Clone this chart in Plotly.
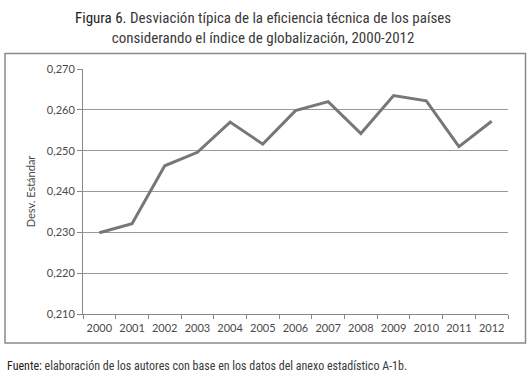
import plotly.graph_objects as go

years = ["2000", "2001", "2002", "2003", "2004", "2005", "2006",
         "2007", "2008", "2009", "2010", "2011", "2012"]
desv = [0.2299, 0.2321, 0.2463, 0.2496, 0.2570, 0.2516, 0.2598,
        0.2620, 0.2542, 0.2635, 0.2622, 0.2510, 0.2572]
y_ticks = [0.210, 0.220, 0.230, 0.240, 0.250, 0.260, 0.270]

W, H = 531, 376
L, R, T, B = 83, 508, 69, 314


def px_x(p):
    return (p - L) / (R - L)


def px_y(p):
    return (B - p) / (B - T)


fig = go.Figure()
fig.add_trace(go.Scatter(
    x=years, y=desv, mode="lines",
    line=dict(color="#777777", width=3),
    hoverinfo="x+y",
))

cond = "Liberation Sans Narrow, Arial Narrow, Roboto Condensed, Roboto, sans-serif"
tick_font = dict(family="Lato, Open Sans, sans-serif", size=11, color="#4a4a4a")

fig.update_layout(
    width=W, height=H,
    margin=dict(l=L, r=W - R, t=T, b=H - B),
    paper_bgcolor="white", plot_bgcolor="white",
    separators=",.",
    showlegend=False,
    xaxis=dict(
        type="category", range=[-0.5, 12.5],
        tickson="boundaries", ticks="outside", ticklen=4, tickangle=0,
        ticklabelstandoff=4,
        tickcolor="#888888", showline=True, linecolor="#888888", linewidth=1,
        showgrid=False, tickfont=tick_font, fixedrange=True,
    ),
    yaxis=dict(
        range=[0.210, 0.270], tickvals=y_ticks, tickformat=".3f",
        ticks="outside", ticklen=5, tickcolor="#888888",
        showline=True, linecolor="#888888", linewidth=1,
        showgrid=True, gridcolor="#999999", gridwidth=1,
        zeroline=False, tickfont=tick_font,
        title=dict(text="Desv. Estándar", standoff=8,
                   font=dict(family="Lato, Open Sans, sans-serif", size=11, color="#4a4a4a")),
        fixedrange=True,
    ),
)

# outer frame
fig.add_shape(type="rect", xref="paper", yref="paper",
              x0=px_x(5), x1=px_x(525.5), y0=px_y(343), y1=px_y(53.5),
              line=dict(color="#8a8a8a", width=1.5), fillcolor="rgba(0,0,0,0)", layer="below")

fig.add_annotation(
    xref="paper", yref="paper", x=px_x(263), y=px_y(7), xanchor="center", yanchor="top",
    text="<span style='color:#222222'>Figura 6.</span> Desviación típica de la eficiencia técnica de los países<br>considerando el índice de globalización, 2000-2012",
    showarrow=False, align="center",
    font=dict(family=cond, size=15, color="#3a3a3a"),
)
fig.add_annotation(
    xref="paper", yref="paper", x=px_x(5), y=px_y(366), xanchor="left", yanchor="middle",
    text="<span style='color:#222222'>Fuente:</span> elaboración de los autores con base en los datos del anexo estadístico A-1b.",
    showarrow=False, align="left",
    font=dict(family=cond, size=12, color="#3a3a3a"),
)

fig.write_html("out.html", config={"displayModeBar": False},
               post_script="document.body.style.margin='0px';document.body.style.overflow='hidden';")
